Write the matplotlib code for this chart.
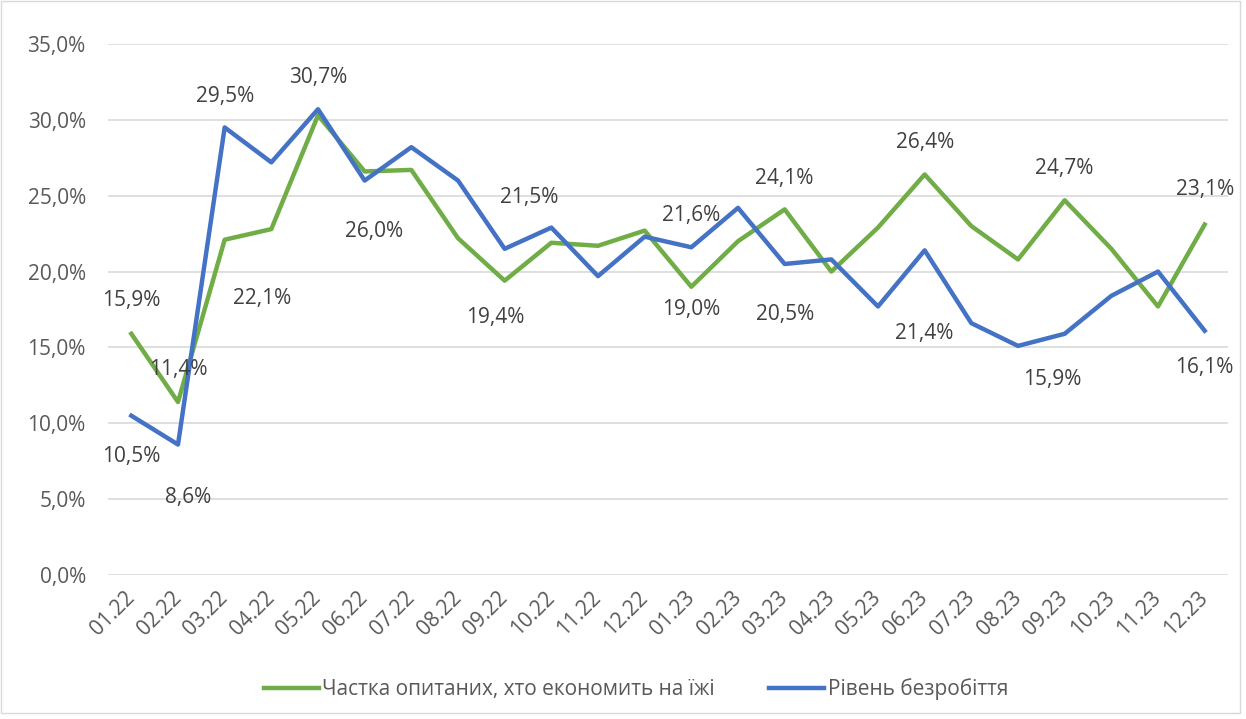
import matplotlib
matplotlib.use("Agg")
import matplotlib.pyplot as plt
from matplotlib.patches import Rectangle

months = ["01.22", "02.22", "03.22", "04.22", "05.22", "06.22", "07.22", "08.22",
          "09.22", "10.22", "11.22", "12.22", "01.23", "02.23", "03.23", "04.23",
          "05.23", "06.23", "07.23", "08.23", "09.23", "10.23", "11.23", "12.23"]
food_saving = [15.9, 11.4, 22.1, 22.8, 30.3, 26.6, 26.7, 22.2, 19.4, 21.9, 21.7, 22.7,
               19.0, 22.0, 24.1, 20.0, 22.9, 26.4, 23.0, 20.8, 24.7, 21.5, 17.7, 23.1]
unemployment = [10.5, 8.6, 29.5, 27.2, 30.7, 26.0, 28.2, 26.0, 21.5, 22.9, 19.7, 22.3,
                21.6, 24.2, 20.5, 20.8, 17.7, 21.4, 16.6, 15.1, 15.9, 18.4, 20.0, 16.1]
yticks = [0, 5, 10, 15, 20, 25, 30, 35]
series_names = ["Частка опитаних, хто економить на їжі", "Рівень безробіття"]

# labelled points: index -> pixel offset (dx, dy)
green_labels = {0: (0, 33), 1: (0, 33), 2: (37, -59), 8: (-9, -37), 12: (0, -23),
                14: (0, 31), 17: (0, 32), 20: (0, 32), 23: (0, 35)}
blue_labels = {0: (0, -41), 1: (10, -53), 2: (0, 31), 4: (0, 32), 5: (9, -51),
               8: (25, 51), 12: (0, 32), 14: (0, -51), 17: (0, -83), 20: (-12, -46),
               23: (0, -37)}

plt.rcParams['font.family'] = ['Open Sans', 'DejaVu Sans']
GREEN = "#70AD47"
BLUE = "#4472C4"
TXT = "#404040"
TICK = "#595959"
FS = 15

W, H = 1246, 719
fig = plt.figure(figsize=(W / 100, H / 100), dpi=100)
ax = fig.add_axes([108 / W, 1 - 575 / H, 1120 / W, 531 / H])

x = list(range(len(months)))
l1, = ax.plot(x, food_saving, color=GREEN, lw=3.2, solid_joinstyle='round', zorder=3)
l2, = ax.plot(x, unemployment, color=BLUE, lw=3.2, solid_joinstyle='round', zorder=4)

def fmt(v):
    return f"{v:.1f}%".replace(".", ",")

for i, (dx, dy) in green_labels.items():
    ax.annotate(fmt(food_saving[i]), (i, food_saving[i]), xytext=(dx, dy),
                textcoords='offset pixels', ha='center', va='center',
                fontsize=FS, color=TXT, zorder=5)
for i, (dx, dy) in blue_labels.items():
    ax.annotate(fmt(unemployment[i]), (i, unemployment[i]), xytext=(dx, dy),
                textcoords='offset pixels', ha='center', va='center',
                fontsize=FS, color=TXT, zorder=5)

ax.set_xlim(-0.5, len(months) - 0.5)
ax.set_ylim(0, 35)
ax.set_yticks(yticks)
ax.set_yticklabels([fmt(v) for v in yticks], fontsize=FS, color=TICK)
ax.set_xticks(x)
ax.set_xticklabels(months, rotation=45, ha='right', va='center', rotation_mode='anchor',
                   fontsize=FS, color=TICK)
ax.tick_params(axis='both', length=0)
ax.tick_params(axis='y', pad=16)
ax.tick_params(axis='x', pad=14)
for s in ax.spines.values():
    s.set_visible(False)
ax.grid(axis='y', color="#D9D9D9", lw=1.2)
ax.set_axisbelow(True)

fig.legend([l1, l2], series_names, loc='center', bbox_to_anchor=(636 / W, 1 - 689 / H),
           ncol=2, frameon=False, fontsize=FS, handlelength=2.65, columnspacing=2.6,
           handletextpad=0.15, labelcolor=TICK)

fig.add_artist(Rectangle((0.5 / W, 6 / H), 1239.5 / W, 712 / H, transform=fig.transFigure,
                         fill=False, edgecolor="#D9D9D9", lw=1))

fig.savefig("out.png", dpi=100, facecolor="white")
